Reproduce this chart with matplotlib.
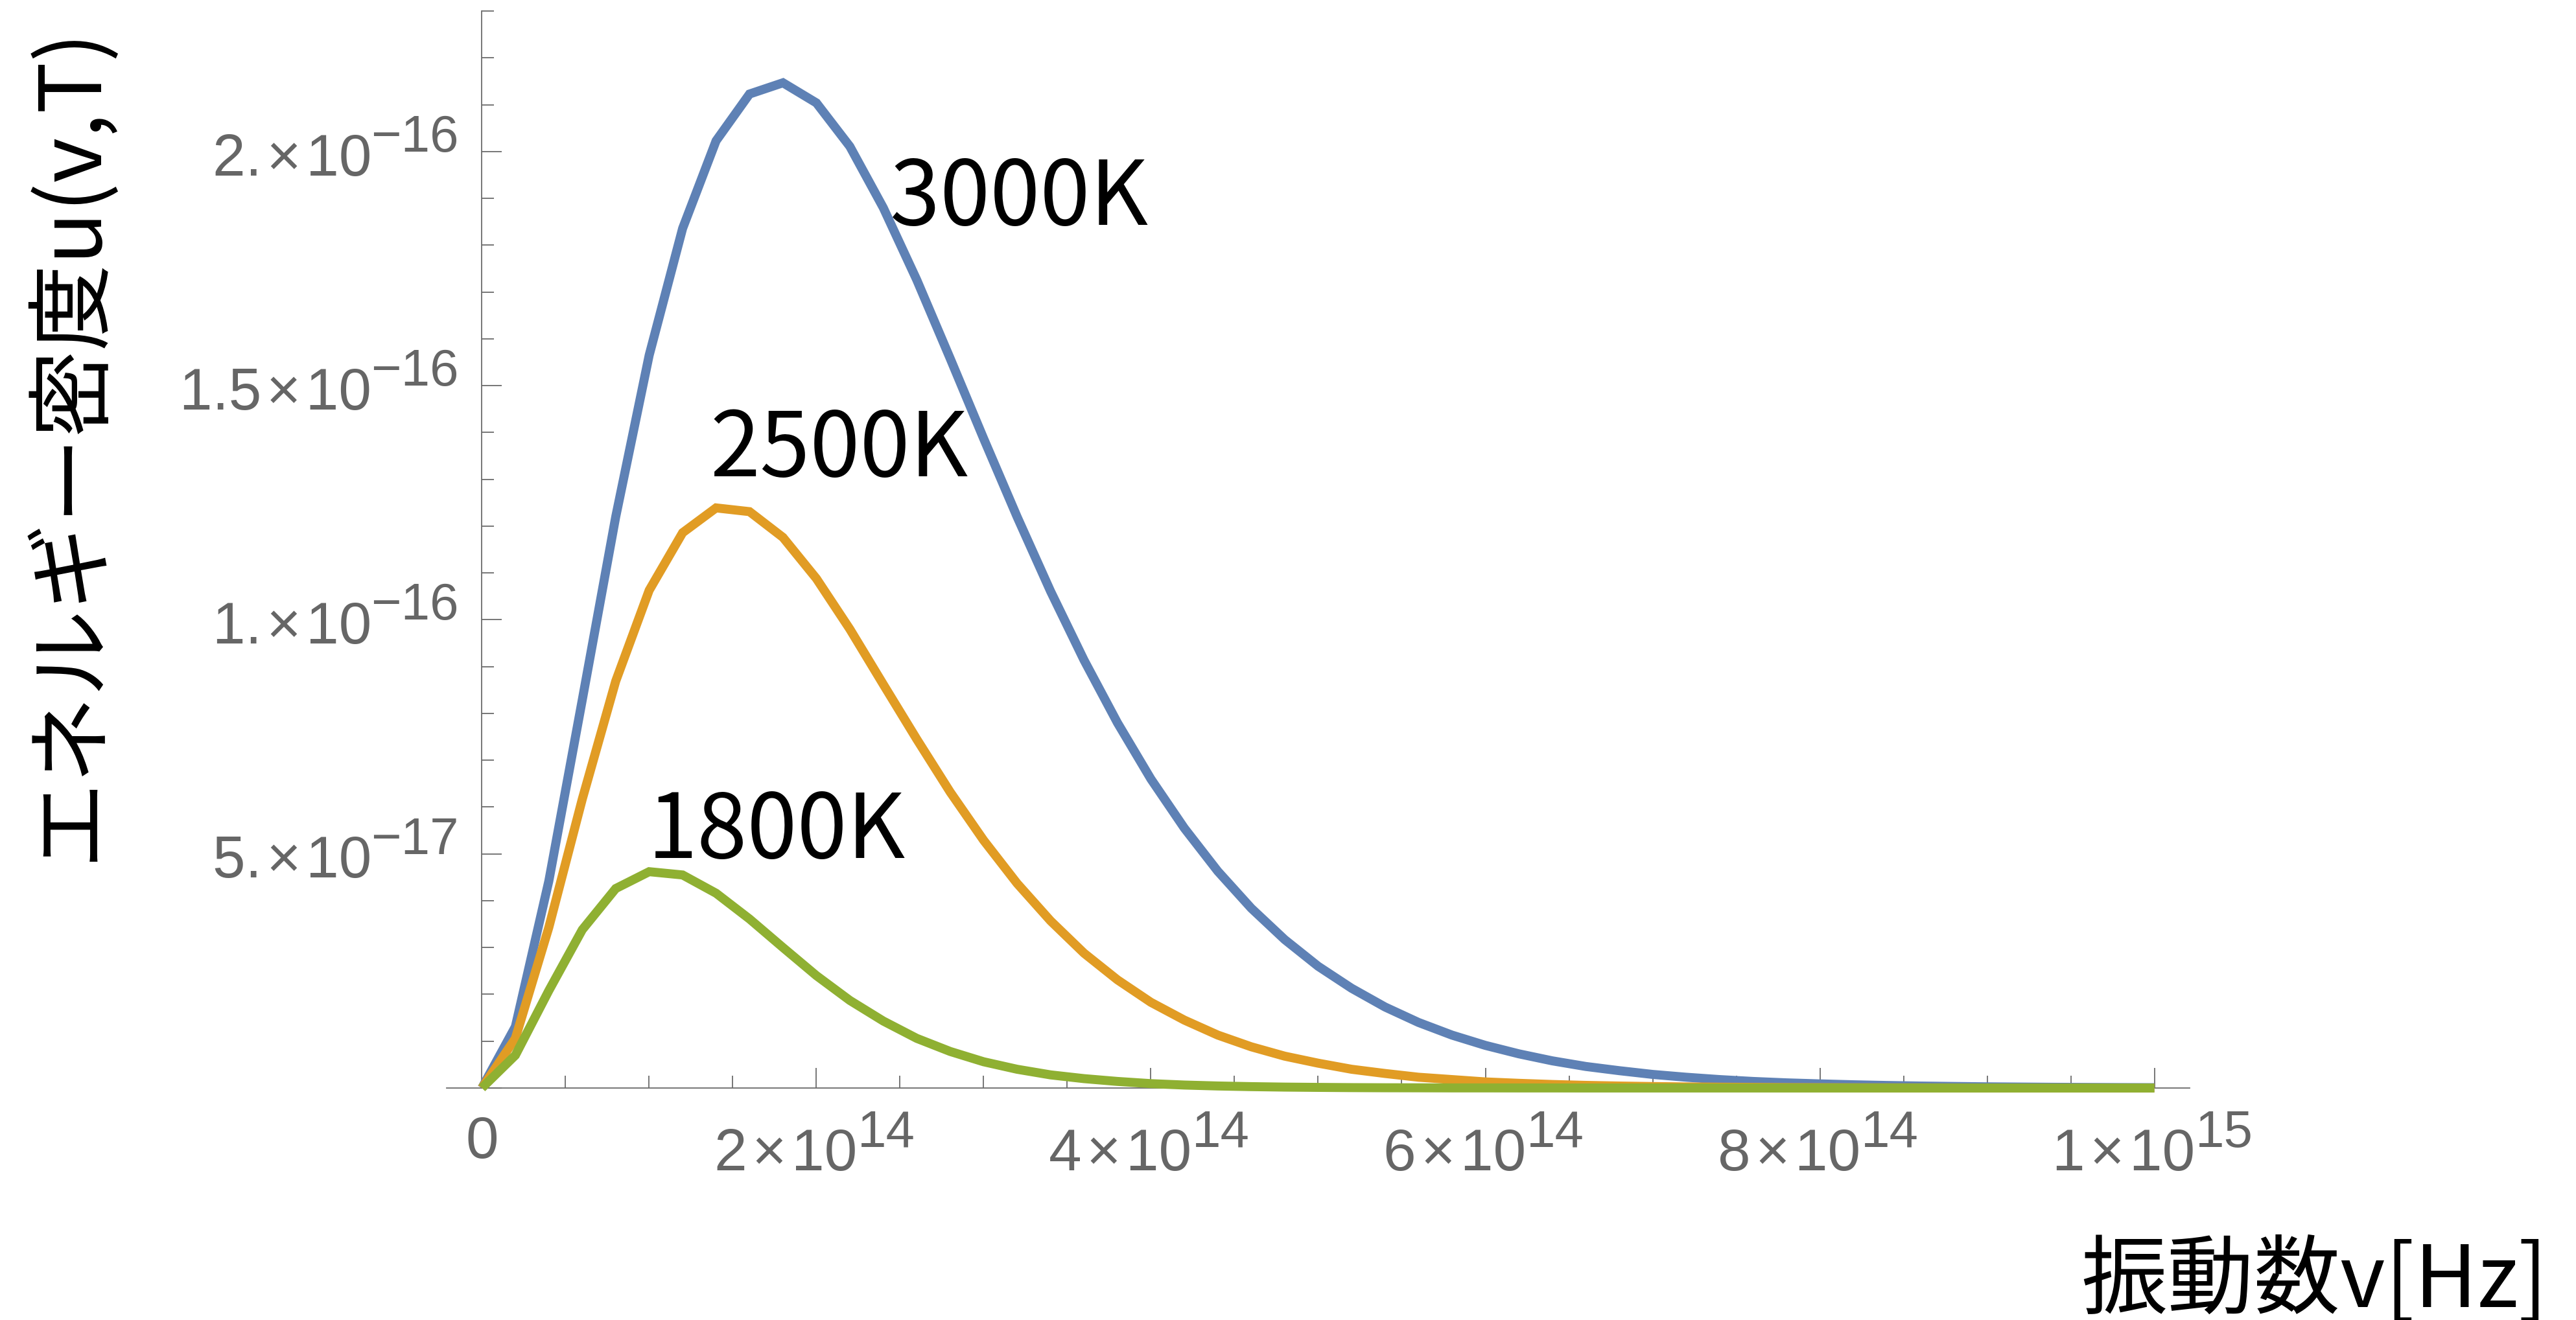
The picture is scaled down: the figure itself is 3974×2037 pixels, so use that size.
import matplotlib
matplotlib.use("Agg")
import matplotlib.pyplot as plt
from matplotlib.ticker import FixedLocator

plt.rcParams["font.family"] = ["Noto Sans CJK JP", "DejaVu Sans"]

# ================================
# DATA
# ================================

# frequency samples, in units of 1e13 Hz
freq_e13 = [0, 2, 4, 6, 8, 10, 12, 14, 16, 18, 20, 22, 24, 26, 28, 30, 32, 34, 36, 38,
            40, 42, 44, 46, 48, 50, 52, 54, 56, 58, 60, 62, 64, 66, 68, 70, 72, 74, 76, 78,
            80, 82, 84, 86, 88, 90, 92, 94, 96, 98, 100]

# energy density u(v,T), in units of 1e-17
u_3000 = [0, 1.31, 4.42, 8.29, 12.2, 15.65, 18.36, 20.23, 21.23, 21.47, 21.04, 20.11, 18.80,
          17.26, 15.58, 13.87, 12.20, 10.61, 9.14, 7.80, 6.60, 5.55, 4.63, 3.84, 3.17, 2.60,
          2.13, 1.73, 1.40, 1.13, 0.91, 0.73, 0.58, 0.46, 0.37, 0.29, 0.23, 0.18, 0.14, 0.11,
          0.088, 0.069, 0.054, 0.042, 0.033, 0.025, 0.020, 0.015, 0.012, 0.009, 0.007]
u_2500 = [0, 1.06, 3.43, 6.17, 8.69, 10.63, 11.86, 12.39, 12.31, 11.76, 10.88, 9.80, 8.62,
          7.45, 6.32, 5.29, 4.37, 3.57, 2.88, 2.31, 1.83, 1.45, 1.13, 0.88, 0.68, 0.53,
          0.40, 0.31, 0.23, 0.18, 0.13, 0.10, 0.075, 0.056, 0.042, 0.031, 0.023, 0.017, 0.013,
          0.009, 0.007, 0.005, 0.004, 0.003, 0.002, 0.001, 0.001, 0.001, 0.001, 0.0, 0.0]
u_1800 = [0, 0.70, 2.08, 3.38, 4.26, 4.62, 4.55, 4.16, 3.61, 3.00, 2.40, 1.87, 1.43,
          1.06, 0.78, 0.56, 0.40, 0.28, 0.20, 0.14, 0.093, 0.063, 0.043, 0.029, 0.019, 0.013,
          0.008, 0.005, 0.004, 0.002, 0.002, 0.001, 0.001, 0.0, 0.0, 0.0, 0.0, 0.0, 0.0,
          0.0, 0.0, 0.0, 0.0, 0.0, 0.0, 0.0, 0.0, 0.0, 0.0, 0.0, 0.0]

series_labels = ["3000K", "2500K", "1800K"]
label_pos = [(2.44e14, 18.44e-17), (1.365e14, 13.07e-17), (0.99e14, 4.91e-17)]

x_major = [2e14, 4e14, 6e14, 8e14, 1e15]
x_tick_base = ["2", "4", "6", "8", "1"]
x_tick_exp = ["14", "14", "14", "14", "15"]
x_minor = [5e13, 1e14, 1.5e14, 2.5e14, 3e14, 3.5e14, 4.5e14, 5e14, 5.5e14, 6.5e14, 7e14,
           7.5e14, 8.5e14, 9e14, 9.5e14]

y_major = [0, 5e-17, 1e-16, 1.5e-16, 2e-16]
y_tick_base = ["5.", "1.", "1.5", "2."]
y_tick_exp = ["\u221217", "\u221216", "\u221216", "\u221216"]
y_minor = [k * 1e-17 for k in range(1, 24)]

# ================================
# STYLE
# ================================
W, H = 3974, 2037
GRAY = "#6b6b6b"
TICK_GRAY = "#666666"
COLORS = ["#5E81B5", "#E19C24", "#8FB032"]
TICK_FONT = ["Liberation Sans", "DejaVu Sans"]
SP = "\u200a"  # hair space around the times sign

fig = plt.figure(figsize=(W / 100, H / 100), dpi=100)
ax = fig.add_axes([0.17345, 0.15803, 0.67650, 0.83353])
ax.set_xlim(-0.021e15, 1.021e15)
ax.set_ylim(-0.5e-17, 23e-17)

freq = [f * 1e13 for f in freq_e13]
for vals, c in zip([u_3000, u_2500, u_1800], COLORS):
    ax.plot(freq, [v * 1e-17 for v in vals], color=c, lw=10,
            solid_capstyle="butt", solid_joinstyle="miter", clip_on=False, zorder=3)

for txt, (lx, ly) in zip(series_labels, label_pos):
    ax.text(lx, ly, txt, fontsize=100, color="black", ha="left", va="baseline", zorder=4)

# axes through the origin, Mathematica style
for side in ["top", "right"]:
    ax.spines[side].set_visible(False)
ax.spines["left"].set_position(("data", 0))
ax.spines["left"].set_bounds(0, 2.3e-16)
ax.spines["bottom"].set_position(("data", 0))
for side in ["left", "bottom"]:
    ax.spines[side].set_color(GRAY)
    ax.spines[side].set_linewidth(1.3)

ax.xaxis.set_major_locator(FixedLocator(x_major))
ax.xaxis.set_minor_locator(FixedLocator(x_minor))
ax.yaxis.set_major_locator(FixedLocator(y_major))
ax.yaxis.set_minor_locator(FixedLocator(y_minor))
ax.tick_params(which="major", direction="in", length=22.5, width=1.3, color=GRAY,
               labelbottom=False, labelleft=False)
ax.tick_params(which="minor", direction="in", length=13.8, width=1.3, color=GRAY)

# tick labels with raised exponents
for v, b, e in zip(x_major, x_tick_base, x_tick_exp):
    ax.annotate(b + SP + "\u00d7" + SP + "10", xy=(v, 0), xytext=(63, -127),
                textcoords="offset pixels", ha="right", va="baseline", fontsize=65.5,
                color=TICK_GRAY, family=TICK_FONT, annotation_clip=False)
    ax.annotate(e, xy=(v, 0), xytext=(63, -91), textcoords="offset pixels",
                ha="left", va="baseline", fontsize=57.5, color=TICK_GRAY,
                family=TICK_FONT, annotation_clip=False)
ax.annotate("0", xy=(0, 0), xytext=(0, -108), textcoords="offset pixels", ha="center",
            va="baseline", fontsize=65.5, color=TICK_GRAY, family=TICK_FONT,
            annotation_clip=False)

for v, b, e in zip(y_major[1:], y_tick_base, y_tick_exp):
    ax.annotate(b + SP + "\u00d7" + SP + "10", xy=(0, v), xytext=(-170.5, -36.6),
                textcoords="offset pixels", ha="right", va="baseline", fontsize=65.5,
                color=TICK_GRAY, family=TICK_FONT, annotation_clip=False)
    ax.annotate(e, xy=(0, v), xytext=(-35.5, 0), textcoords="offset pixels",
                ha="right", va="baseline", fontsize=57.5, color=TICK_GRAY,
                family=TICK_FONT, annotation_clip=False)

# axis labels
fig.text(146 / W, 1 - 683 / H, "エネルギー密度u(v,T)", fontsize=96, rotation=90,
         rotation_mode="anchor", ha="center", va="baseline", color="black")
fig.text(3930 / W, 1 - 2017 / H, "振動数v[Hz]", fontsize=96, ha="right",
         va="baseline", color="black")

fig.savefig("out.png", dpi=100)
